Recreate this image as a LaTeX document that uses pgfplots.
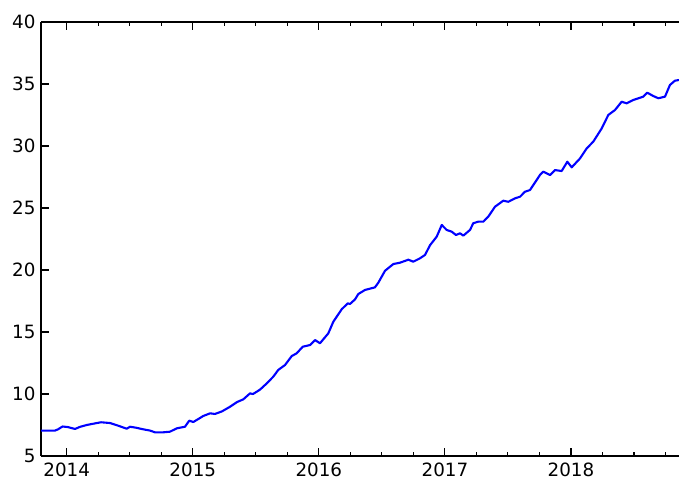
\documentclass[border=0pt]{standalone}
\usepackage{fontspec}
\setmainfont{DejaVu Sans}
\usepackage{pgfplots}
\pgfplotsset{compat=1.18}
\begin{document}
\begin{tikzpicture}
\begin{axis}[
  scale only axis,
  width=638pt, height=434pt,
  xmin=2013.796, xmax=2018.857,
  ymin=5, ymax=40,
  xtick={2014,2015,2016,2017,2018},
  minor xtick={2014.25,2014.5,2014.75,2015.25,2015.5,2015.75,2016.25,2016.5,2016.75,2017.25,2017.5,2017.75,2018.25,2018.5,2018.75},
  ytick={5,10,15,20,25,30,35,40},
  axis x line*=box, axis y line*=left,
  tick align=inside,
  major tick length=8pt, minor tick length=4pt,
  axis line style={line width=1.2pt, black},
  every tick/.style={line width=1.1pt, black},
  every minor tick/.style={line width=1.1pt, black},
  ticklabel style={font=\fontsize{18.3}{22}\selectfont},
  /pgf/number format/assume math mode=true,
  /pgf/number format/1000 sep={},
  x tick label style={yshift=-3pt},
  y tick label style={xshift=-2pt},
]
\addplot[line width=2.1pt, line join=round, line cap=round, color={rgb,255:red,0;green,0;blue,255}] coordinates {
(2013.796,7.05) (2013.907,7.05) (2013.931,7.15) (2013.967,7.38) (2014.010,7.33)
(2014.066,7.18) (2014.105,7.35) (2014.159,7.50) (2014.209,7.60) (2014.272,7.72)
(2014.343,7.66) (2014.407,7.45) (2014.476,7.20) (2014.502,7.36) (2014.550,7.28)
(2014.608,7.15) (2014.661,7.05) (2014.700,6.91) (2014.756,6.90) (2014.819,6.96)
(2014.873,7.23) (2014.938,7.36) (2014.972,7.85) (2015.004,7.74) (2015.084,8.23)
(2015.137,8.44) (2015.176,8.39) (2015.232,8.60) (2015.295,8.97) (2015.351,9.35)
(2015.401,9.57) (2015.454,10.05) (2015.478,10.00) (2015.533,10.35) (2015.581,10.80)
(2015.639,11.40) (2015.678,11.94) (2015.732,12.34) (2015.785,13.06) (2015.824,13.28)
(2015.872,13.81) (2015.930,13.95) (2015.970,14.35) (2016.009,14.09) (2016.075,14.89)
(2016.115,15.83) (2016.181,16.83) (2016.229,17.31) (2016.247,17.26) (2016.287,17.63)
(2016.313,18.06) (2016.366,18.39) (2016.445,18.60) (2016.472,18.98) (2016.525,19.94)
(2016.591,20.48) (2016.644,20.59) (2016.710,20.83) (2016.749,20.67) (2016.802,20.94)
(2016.842,21.21) (2016.882,22.00) (2016.935,22.69) (2016.975,23.63) (2017.014,23.23)
(2017.054,23.09) (2017.088,22.82) (2017.120,22.96) (2017.146,22.77) (2017.199,23.23)
(2017.225,23.77) (2017.265,23.90) (2017.305,23.90) (2017.344,24.30) (2017.397,25.10)
(2017.463,25.59) (2017.503,25.50) (2017.556,25.78) (2017.596,25.91) (2017.635,26.31)
(2017.675,26.45) (2017.728,27.26) (2017.754,27.66) (2017.780,27.93) (2017.834,27.66)
(2017.873,28.06) (2017.926,27.98) (2017.971,28.73) (2018.006,28.28) (2018.072,29.00)
(2018.125,29.81) (2018.177,30.35) (2018.244,31.42) (2018.296,32.50) (2018.349,32.90)
(2018.402,33.57) (2018.442,33.44) (2018.494,33.71) (2018.574,33.98) (2018.605,34.30)
(2018.653,34.03) (2018.693,33.85) (2018.746,33.98) (2018.785,34.92) (2018.825,35.27)
(2018.857,35.32)
};
\coordinate (SW) at (rel axis cs:0,0);
\coordinate (NE) at (rel axis cs:1,1);
\end{axis}
\pgfresetboundingbox
\path ([shift={(-41pt,-25pt)}]SW) rectangle ([shift={(0pt,22pt)}]NE);
\end{tikzpicture}
\end{document}
